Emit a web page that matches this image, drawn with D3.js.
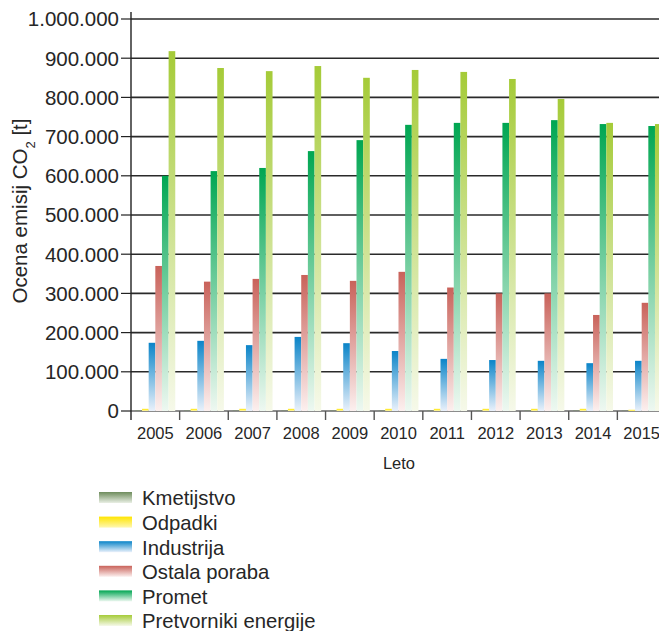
<!DOCTYPE html>
<html>
<head>
<meta charset="utf-8">
<script src="https://cdn.jsdelivr.net/npm/d3@7"></script>
<style>
  body { margin: 0; background: #fff; }
  text { font-family: "Liberation Sans", Arial, sans-serif; fill: #262626; }
</style>
</head>
<body>
<div class="graph"></div>
<script>
// years on x axis
let years = ["2005", "2006", "2007", "2008", "2009", "2010", "2011", "2012", "2013", "2014", "2015"];
let seriesNames = ["Kmetijstvo", "Odpadki", "Industrija", "Ostala poraba", "Promet", "Pretvorniki energije"];

// values in tonnes
let kmetijstvo = [800, 800, 800, 800, 800, 800, 800, 800, 800, 800, 600];
let odpadki = [5500, 5500, 5500, 5500, 5500, 5500, 5500, 5500, 5500, 5500, 3000];
let industrija = [174000, 179000, 168000, 189000, 173000, 153000, 133000, 130000, 128000, 122000, 128000];
let ostalaPoraba = [370000, 330000, 337000, 347000, 332000, 355000, 315000, 300000, 300000, 245000, 276000];
let promet = [600000, 612000, 620000, 663000, 691000, 730000, 735000, 735000, 742000, 732000, 727000];
let pretvorniki = [918000, 875000, 867000, 880000, 850000, 870000, 865000, 847000, 796000, 735000, 732000];

let yTicks = [0, 100000, 200000, 300000, 400000, 500000, 600000, 700000, 800000, 900000, 1000000];

let allSeries = [kmetijstvo, odpadki, industrija, ostalaPoraba, promet, pretvorniki];
// top colour / bottom colour of every bar gradient
let topColors = ["#6e8c5c", "#ffe500", "#0a84c8", "#c9625a", "#00a652", "#a5cb38"];
let bottomColors = ["#e9efe4", "#fff7b0", "#eaf1fb", "#fcf0ef", "#eef8f1", "#f6f9ea"];

let width = 659, height = 631;

let svg = d3.select(".graph").append("svg")
    .attr("width", width)
    .attr("height", height);

let defs = svg.append("defs");
seriesNames.forEach((s, i) => {
    let g = defs.append("linearGradient")
        .attr("id", "grad" + i)
        .attr("x1", 0).attr("y1", 0).attr("x2", 0).attr("y2", 1);
    g.append("stop").attr("offset", "0%").attr("stop-color", topColors[i]);
    g.append("stop").attr("offset", "100%").attr("stop-color", bottomColors[i]);
});

let y = d3.scaleLinear()
    .domain([0, 1000000])
    .range([411, 19]);

let x = d3.scaleBand()
    .domain(years)
    .range([131, 666])
    .paddingInner(0.18)
    .paddingOuter(0.09);

let xInner = d3.scaleBand()
    .domain(seriesNames)
    .range([0, x.bandwidth()]);

let fmt = d => d3.format(",")(d).replace(/,/g, ".");

// gridlines
svg.append("g")
    .selectAll("line")
    .data(yTicks)
    .join("line")
    .attr("x1", 131)
    .attr("x2", width)
    .attr("y1", d => y(d))
    .attr("y2", d => y(d))
    .attr("stroke", d => d === 0 ? "#666" : "#2a2a2a")
    .attr("stroke-width", 1.6);

// bars
let groups = svg.append("g")
    .selectAll("g")
    .data(years)
    .join("g")
    .attr("transform", d => "translate(" + x(d) + ",0)");

groups.selectAll("rect")
    .data((yr, j) => seriesNames.map((s, i) => ({s: s, i: i, v: allSeries[i][j]})))
    .join("rect")
    .attr("x", d => xInner(d.s))
    .attr("width", xInner.bandwidth())
    .attr("y", d => y(d.v))
    .attr("height", d => y(0) - y(d.v))
    .attr("fill", d => "url(#grad" + d.i + ")");

// y axis
let yAxis = svg.append("g").attr("transform", "translate(131,0)");
yAxis.append("line")
    .attr("x1", 0).attr("x2", 0)
    .attr("y1", 12).attr("y2", 420)
    .attr("stroke", "#222").attr("stroke-width", 1.4);
yAxis.selectAll(".tick")
    .data(yTicks)
    .join("line")
    .attr("x1", -10).attr("x2", 0)
    .attr("y1", d => y(d)).attr("y2", d => y(d))
    .attr("stroke", "#222").attr("stroke-width", 1.2);
yAxis.selectAll("text")
    .data(yTicks)
    .join("text")
    .attr("x", -12)
    .attr("y", d => y(d))
    .attr("dy", "0.36em")
    .attr("text-anchor", "end")
    .style("font-size", "20.5px")
    .text(fmt);

// x axis ticks at category boundaries
let step = x.step();
svg.append("g")
    .selectAll("line")
    .data(years.slice(1))
    .join("line")
    .attr("x1", d => x(d) - step * x.paddingInner() / 2)
    .attr("x2", d => x(d) - step * x.paddingInner() / 2)
    .attr("y1", 411).attr("y2", 420)
    .attr("stroke", "#555").attr("stroke-width", 1.4);

svg.append("g")
    .selectAll("text")
    .data(years)
    .join("text")
    .attr("x", d => x(d) + x.bandwidth() / 2)
    .attr("y", 439)
    .attr("text-anchor", "middle")
    .style("font-size", "16.5px")
    .text(d => d);

svg.append("text")
    .attr("x", 399)
    .attr("y", 469)
    .attr("text-anchor", "middle")
    .style("font-size", "16.5px")
    .text("Leto");

// y title
let yt = svg.append("text")
    .attr("transform", "translate(27,211) rotate(-90)")
    .attr("text-anchor", "middle")
    .style("font-size", "20.5px");
yt.append("tspan").text("Ocena emisij CO");
yt.append("tspan").attr("baseline-shift", "sub").style("font-size", "13px").text("2");
yt.append("tspan").text(" [t]");

// legend
let legend = svg.append("g")
    .selectAll("g")
    .data(seriesNames)
    .join("g")
    .attr("transform", (d, i) => "translate(99," + (492 + i * 24.6) + ")");
legend.append("rect")
    .attr("width", 33)
    .attr("height", 11)
    .attr("fill", (d, i) => "url(#grad" + i + ")");
legend.append("text")
    .attr("x", 43)
    .attr("y", 6)
    .attr("dy", "0.36em")
    .style("font-size", "20.3px")
    .text(d => d);
</script>
</body>
</html>
